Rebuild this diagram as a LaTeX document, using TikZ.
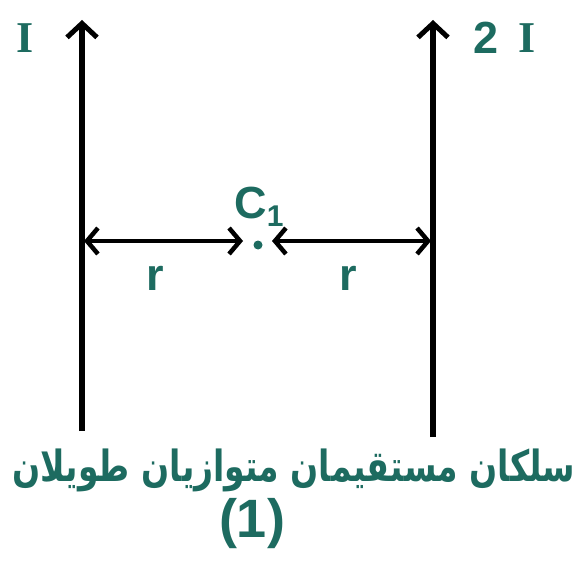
\documentclass[tikz,border=0pt]{standalone}
\usepackage{fontspec}
\usetikzlibrary{arrows.meta}
\TeXXeTstate=1
\newfontfamily\arabicfont[Script=Arabic]{DejaVu Sans}
\newfontfamily\lsans{Liberation Sans}
\newfontfamily\lserif{Liberation Serif}
\definecolor{teal1}{HTML}{1D6B60}
\tikzset{
  wire/.style={line width=5.5pt, -{Straight Barb[length=14pt,width=30pt,line width=5pt]}},
  dim/.style={line width=4pt, {Straight Barb[length=11pt,width=26pt,line width=4.5pt]}-{Straight Barb[length=11pt,width=26pt,line width=4.5pt]}},
  lbl/.style={text=teal1, font=\lsans\bfseries\fontsize{45}{45}\selectfont, inner sep=0pt},
  serifl/.style={text=teal1, font=\lserif\bfseries\fontsize{44}{44}\selectfont, inner sep=0pt}
}
\begin{document}
\begin{tikzpicture}[x=1pt,y=-1pt]
\useasboundingbox (0,0) rectangle (583,580);
\coordinate (lb) at (82,431);
\coordinate (lt) at (82,20);
\coordinate (rb) at (433,437);
\coordinate (rt) at (433,20);
\draw[wire] (lb) -- (lt);
\draw[wire] (rb) -- (rt);
\node[serifl] (iL) at (25,38) {I};
\node[lbl] (two) at (486,38) {2};
\node[serifl] (iR) at (527,38) {I};
\node[circle, fill=teal1, inner sep=0pt, minimum size=9pt] (c) at (258,245) {};
\coordinate (la) at (84,241);
\coordinate (ca) at (243,241);
\coordinate (cb) at (272,241);
\coordinate (ra) at (431,241);
\draw[dim] (la) -- (ca);
\draw[dim] (cb) -- (ra);
\node[lbl] (C) at (259,207) {C\raisebox{-0.35ex}{\fontsize{30}{30}\selectfont 1}};
\node[lbl] (r1) at (155,278) {r};
\node[lbl] (r2) at (348,278) {r};
\node[text=teal1, inner sep=0pt] (t) at (294,470) {\scalebox{1}[1.3]{\arabicfont\bfseries\fontsize{33}{40}\selectfont\beginR سلكان مستقيمان متوازيان طويلان\endR}};
\node[lbl, font=\lsans\bfseries\fontsize{54}{54}\selectfont] (n) at (252,524) {(1)};
\end{tikzpicture}
\end{document}
